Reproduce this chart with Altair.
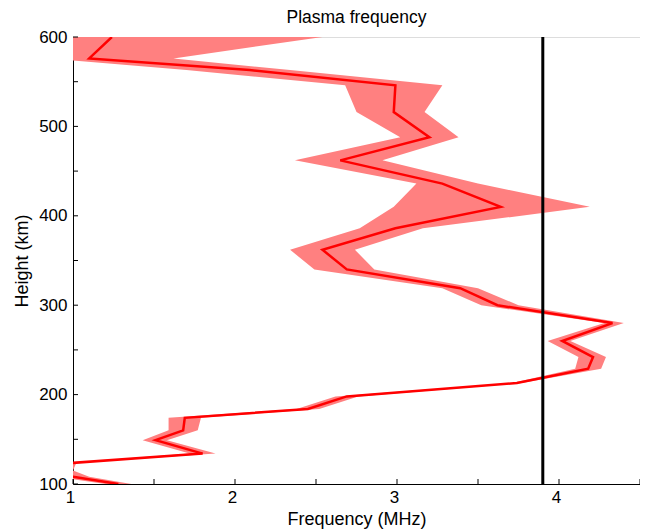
import altair as alt
import pandas as pd

# Height (km) of each profile sample, top to bottom
HEIGHT = [600, 576, 563, 546, 516, 488, 462, 436, 410, 386, 362, 340, 319, 300,
          280, 260, 242, 229, 213, 198, 184, 174, 160, 149, 134, 123.5, 115, 108, 100]
# Median plasma frequency (MHz)
MEDIAN = [1.24, 1.10, 2.09, 2.99, 2.98, 3.20, 2.65, 3.28, 3.64, 2.99, 2.54, 2.69, 3.39, 3.62,
          4.33, 4.02, 4.21, 4.18, 3.74, 2.69, 2.45, 1.69, 1.68, 1.51, 1.80, 0.99, 0.90, 1.00, 1.28]
# Lower / upper bound of the shaded band (MHz)
LOW = [0.80, 0.85, 1.70, 2.68, 2.75, 3.02, 2.37, 3.12, 2.98, 2.77, 2.34, 2.49, 3.28, 3.52,
       4.28, 3.93, 4.12, 4.10, 3.71, 2.62, 2.38, 1.59, 1.59, 1.43, 1.72, 0.96, 0.80, 0.90, 1.20]
HIGH = [2.54, 1.62, 2.34, 3.28, 3.17, 3.38, 2.91, 3.50, 4.19, 3.16, 2.74, 2.86, 3.50, 3.75,
        4.40, 4.07, 4.29, 4.26, 3.77, 2.76, 2.52, 1.79, 1.77, 1.58, 1.88, 1.02, 1.00, 1.10, 1.36]

# Reference frequency (vertical black line)
REF_FREQ = [3.9]

X_TICKS = [1, 1.5, 2, 2.5, 3, 3.5, 4, 4.5]
Y_TICKS = [100, 150, 200, 250, 300, 350, 400, 450, 500, 550, 600]

df = pd.DataFrame({"h": HEIGHT, "med": MEDIAN, "lo": LOW, "hi": HIGH})

FONT = "Liberation Sans"
W, H = 567, 447

xscale = alt.Scale(domain=[1, 4.5], nice=False, zero=False)
yscale = alt.Scale(domain=[100, 600], nice=False, zero=False)

xaxis = alt.Axis(values=X_TICKS, ticks=False, grid=False, title="Frequency (MHz)",
                 labelExpr="datum.value % 1 == 0 ? format(datum.value, 'd') : ''",
                 labelFontSize=17, titleFontSize=18, labelPadding=5, titlePadding=5,
                 labelOffset=-3,
                 labelFont=FONT, titleFont=FONT, titleFontWeight="normal",
                 labelColor="black", titleColor="black", domainColor="black",
                 labelFlush=False)
yaxis = alt.Axis(values=Y_TICKS, ticks=False, grid=False, title="Height (km)",
                 labelExpr="datum.value % 100 == 0 ? format(datum.value, 'd') : ''",
                 labelFontSize=17, titleFontSize=18, labelPadding=6, titlePadding=7,
                 labelFont=FONT, titleFont=FONT, titleFontWeight="normal",
                 labelColor="black", titleColor="black", domainColor="black",
                 labelFlush=False)


def X(field):
    return alt.X(field, type="quantitative", scale=xscale, axis=xaxis)


def Y(field):
    return alt.Y(field, type="quantitative", scale=yscale, axis=yaxis)


band = alt.Chart(df).mark_area(orient="horizontal", color="#ff8080", opacity=1, clip=True).encode(
    y=Y("h"), x=X("lo"), x2="hi"
)
line = alt.Chart(df).mark_line(color="#ff0000", strokeWidth=2.5, clip=True).encode(
    x=X("med"), y=Y("h"), order=alt.Order("h:Q")
)
vline = alt.Chart(pd.DataFrame({"f": REF_FREQ})).mark_rule(color="black", strokeWidth=3).encode(
    x=X("f")
)
xt = alt.Chart(pd.DataFrame({"t": X_TICKS})).mark_rule(color="black", strokeWidth=1).encode(
    x=X("t"), y=alt.value(H), y2=alt.value(H - 5)
)
yt = alt.Chart(pd.DataFrame({"t": Y_TICKS})).mark_rule(color="black", strokeWidth=1).encode(
    y=Y("t"), x=alt.value(0), x2=alt.value(5)
)

chart = alt.layer(band, line, vline, xt, yt).properties(
    width=W, height=H,
    title=alt.TitleParams("Plasma frequency", font=FONT, fontSize=17.5, fontWeight="normal",
                          color="black", anchor="middle", offset=-6, baseline="bottom", dy=10),
    autosize=alt.AutoSizeParams(type="none"),
    padding={"left": 65, "top": 29, "right": 0, "bottom": 45},
).configure_view(stroke=None).configure(background="white")

chart.save("out.html", embed_options={"renderer": "svg", "actions": False})
